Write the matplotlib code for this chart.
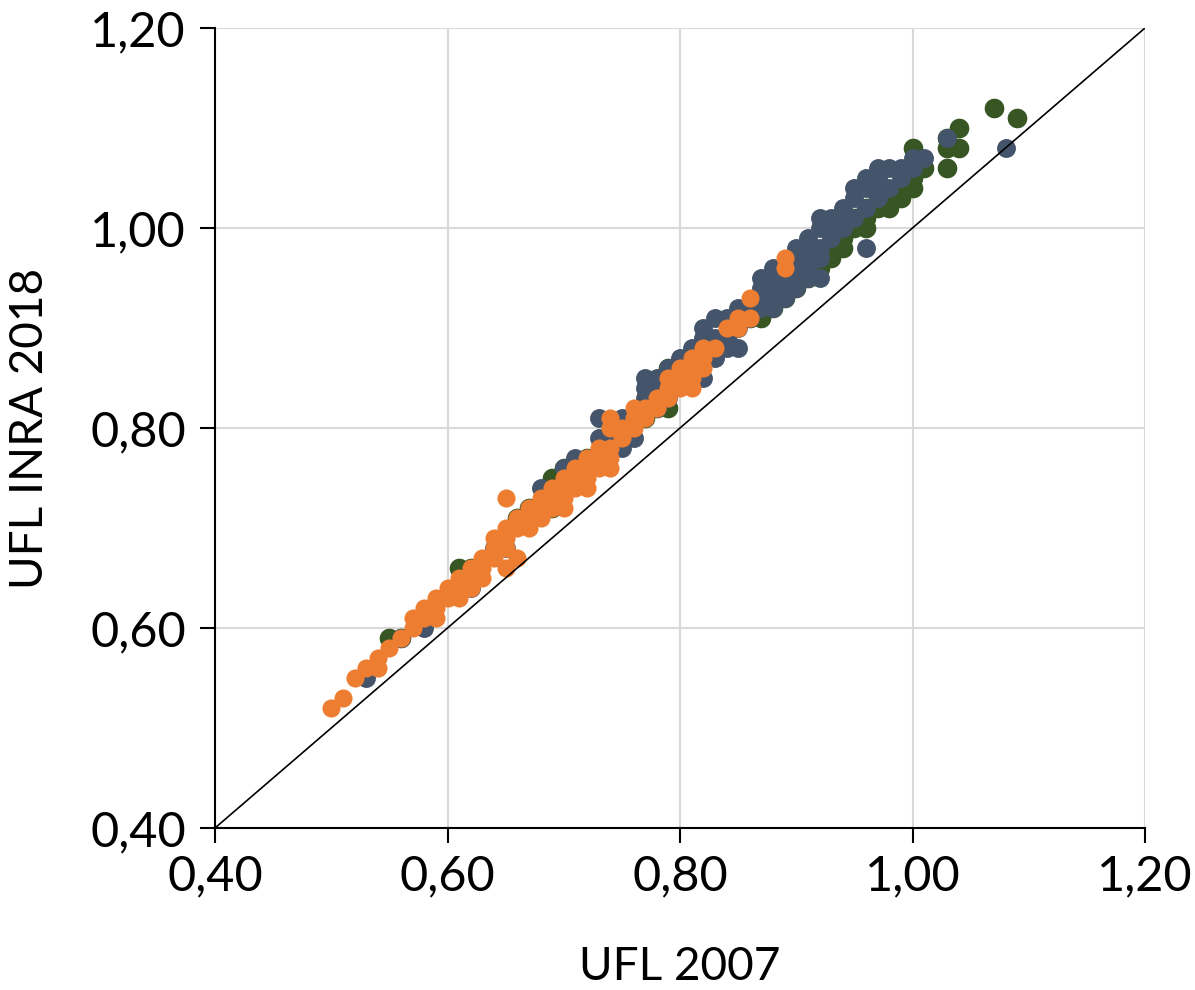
import matplotlib.pyplot as plt
from matplotlib.ticker import FuncFormatter

# UFL 2007 (x) vs UFL INRA 2018 (y), three feed groups
green_x = [0.55, 0.56, 0.61, 0.62, 0.66, 0.67, 0.68, 0.69, 0.69, 0.70, 0.71, 0.72,
           0.75, 0.76, 0.77, 0.78, 0.79, 0.79, 0.80, 0.82, 0.84, 0.85, 0.86, 0.87,
           0.88, 0.88, 0.89, 0.89, 0.90, 0.90, 0.91, 0.91, 0.92, 0.92, 0.93, 0.93,
           0.94, 0.94, 0.95, 0.95, 0.96, 0.96, 0.96, 0.97, 0.97, 0.98, 0.98, 0.99,
           0.99, 1.00, 1.00, 1.00, 1.01, 1.03, 1.03, 1.03, 1.04, 1.04, 1.07, 1.09]
green_y = [0.59, 0.59, 0.66, 0.66, 0.71, 0.72, 0.72, 0.75, 0.72, 0.76, 0.75, 0.77,
           0.80, 0.81, 0.81, 0.82, 0.82, 0.86, 0.85, 0.88, 0.89, 0.91, 0.91, 0.91,
           0.92, 0.93, 0.93, 0.94, 0.94, 0.95, 0.95, 0.96, 0.96, 0.97, 0.97, 0.98,
           0.98, 0.99, 1.00, 1.01, 1.00, 1.01, 1.02, 1.02, 1.03, 1.02, 1.03, 1.03,
           1.04, 1.04, 1.05, 1.08, 1.06, 1.06, 1.08, 1.09, 1.08, 1.10, 1.12, 1.11]

blue_x = [0.53, 0.56, 0.58, 0.62, 0.64, 0.65, 0.68, 0.69, 0.70, 0.71, 0.72, 0.73,
          0.73, 0.74, 0.75, 0.75, 0.76, 0.77, 0.77, 0.77, 0.78, 0.78, 0.78, 0.79,
          0.79, 0.80, 0.80, 0.81, 0.81, 0.82, 0.82, 0.82, 0.83, 0.83, 0.83, 0.84,
          0.84, 0.84, 0.85, 0.85, 0.85, 0.86, 0.86, 0.87, 0.87, 0.87, 0.87, 0.88,
          0.88, 0.88, 0.88, 0.88, 0.89, 0.89, 0.89, 0.89, 0.90, 0.90, 0.90, 0.90,
          0.90, 0.91, 0.91, 0.91, 0.91, 0.91, 0.92, 0.92, 0.92, 0.92, 0.92, 0.93,
          0.93, 0.93, 0.94, 0.94, 0.94, 0.95, 0.95, 0.95, 0.96, 0.96, 0.96, 0.96,
          0.97, 0.97, 0.97, 0.97, 0.98, 0.98, 0.99, 0.99, 1.00, 1.00, 1.01, 1.03,
          1.08]
blue_y = [0.55, 0.59, 0.60, 0.64, 0.68, 0.68, 0.74, 0.73, 0.76, 0.77, 0.76, 0.79,
          0.81, 0.79, 0.78, 0.81, 0.79, 0.83, 0.84, 0.85, 0.82, 0.84, 0.85, 0.83,
          0.86, 0.85, 0.87, 0.86, 0.88, 0.85, 0.89, 0.90, 0.87, 0.89, 0.91, 0.88,
          0.89, 0.91, 0.88, 0.90, 0.92, 0.91, 0.92, 0.92, 0.93, 0.94, 0.95, 0.92,
          0.93, 0.94, 0.95, 0.96, 0.93, 0.94, 0.95, 0.96, 0.94, 0.95, 0.96, 0.97,
          0.98, 0.95, 0.96, 0.97, 0.98, 0.99, 0.95, 0.97, 0.98, 1.00, 1.01, 0.99,
          1.00, 1.01, 1.00, 1.01, 1.02, 1.01, 1.03, 1.04, 1.02, 1.04, 1.05, 0.98,
          1.03, 1.04, 1.05, 1.06, 1.04, 1.06, 1.05, 1.06, 1.06, 1.07, 1.07, 1.09,
          1.08]

orange_x = [0.50, 0.51, 0.52, 0.53, 0.54, 0.54, 0.55, 0.56, 0.57, 0.57, 0.58, 0.58,
            0.59, 0.59, 0.59, 0.60, 0.60, 0.61, 0.61, 0.61, 0.62, 0.62, 0.62, 0.63,
            0.63, 0.63, 0.64, 0.64, 0.64, 0.65, 0.65, 0.65, 0.65, 0.65, 0.66, 0.66,
            0.66, 0.67, 0.67, 0.67, 0.68, 0.68, 0.68, 0.69, 0.69, 0.69, 0.70, 0.70,
            0.70, 0.70, 0.71, 0.71, 0.71, 0.72, 0.72, 0.72, 0.72, 0.73, 0.73, 0.73,
            0.74, 0.74, 0.74, 0.74, 0.74, 0.75, 0.75, 0.76, 0.76, 0.76, 0.77, 0.77,
            0.78, 0.78, 0.79, 0.79, 0.79, 0.80, 0.80, 0.80, 0.81, 0.81, 0.81, 0.81,
            0.82, 0.82, 0.82, 0.83, 0.84, 0.85, 0.85, 0.86, 0.86, 0.89, 0.89]
orange_y = [0.52, 0.53, 0.55, 0.56, 0.56, 0.57, 0.58, 0.59, 0.60, 0.61, 0.61, 0.62,
            0.61, 0.62, 0.63, 0.63, 0.64, 0.63, 0.64, 0.65, 0.64, 0.65, 0.66, 0.65,
            0.66, 0.67, 0.67, 0.68, 0.69, 0.68, 0.69, 0.70, 0.66, 0.73, 0.67, 0.70,
            0.71, 0.70, 0.71, 0.72, 0.71, 0.72, 0.73, 0.72, 0.73, 0.74, 0.72, 0.73,
            0.74, 0.75, 0.74, 0.75, 0.76, 0.74, 0.75, 0.76, 0.77, 0.76, 0.77, 0.78,
            0.76, 0.77, 0.78, 0.80, 0.81, 0.79, 0.80, 0.80, 0.81, 0.82, 0.81, 0.82,
            0.82, 0.83, 0.83, 0.84, 0.85, 0.84, 0.85, 0.86, 0.84, 0.85, 0.86, 0.87,
            0.86, 0.87, 0.88, 0.88, 0.90, 0.90, 0.91, 0.91, 0.93, 0.96, 0.97]

ticks = [0.40, 0.60, 0.80, 1.00, 1.20]

plt.rcParams['font.family'] = ['Lato', 'DejaVu Sans']

fig = plt.figure(figsize=(11.95, 9.9), dpi=100)
ax = fig.add_axes([215 / 1195, 162 / 990, 930 / 1195, 800 / 990])

ax.scatter(green_x, green_y, s=200, color='#375623', linewidths=0, zorder=3)
ax.scatter(blue_x, blue_y, s=185, color='#44546A', linewidths=0, zorder=4)
ax.scatter(orange_x, orange_y, s=170, color='#ED7D31', linewidths=0, zorder=5)

ax.plot([0.40, 1.20], [0.40, 1.20], color='black', lw=1.2, zorder=6)

ax.set_xlim(0.40, 1.20)
ax.set_ylim(0.40, 1.20)
ax.set_xticks(ticks)
ax.set_yticks(ticks)
fmt = FuncFormatter(lambda v, p: f'{v:.2f}'.replace('.', ','))
ax.xaxis.set_major_formatter(fmt)
ax.yaxis.set_major_formatter(fmt)

ax.grid(True, color='#d9d9d9', lw=1.5, zorder=0)
ax.set_axisbelow(True)
for side in ['top', 'right']:
    ax.spines[side].set_visible(False)
for side in ['left', 'bottom']:
    ax.spines[side].set_linewidth(1.5)
    ax.spines[side].set_zorder(7)

ax.tick_params(direction='out', length=11, width=1.5, labelsize=35)
ax.tick_params(axis='x', pad=8)
ax.tick_params(axis='y', pad=10)
ax.set_xlabel('UFL 2007', fontsize=33, labelpad=34)
ax.set_ylabel('UFL INRA 2018', fontsize=33, labelpad=28)

fig.savefig('out.png', dpi=100)
